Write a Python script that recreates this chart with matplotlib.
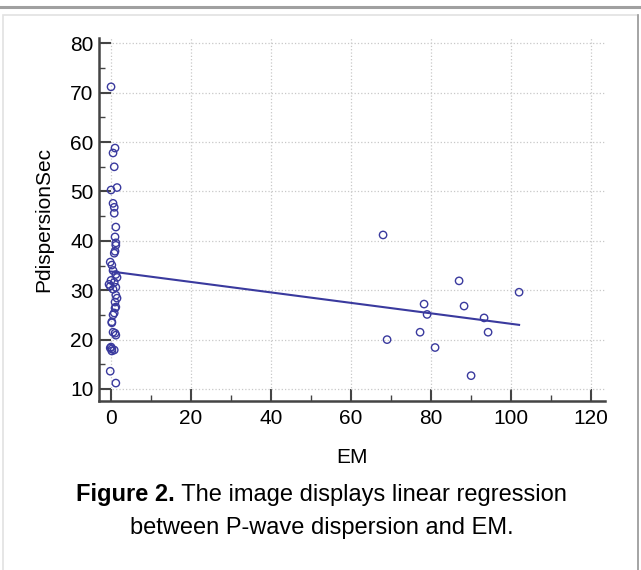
import numpy as np
import matplotlib
matplotlib.use('Agg')
import matplotlib.pyplot as plt
from matplotlib.lines import Line2D
from matplotlib.patches import Rectangle
from matplotlib.ticker import MultipleLocator

plt.rcParams['font.family'] = ['Liberation Sans', 'DejaVu Sans']

# EM values (x) and P-wave dispersion (y)
em_low = [0, 1, 0.5, 0.8, 0, 1.5, 0.5, 0.8, 0.8, 1.2, 1, 1.2, 1.2, 0.8, 1,
          -0.2, 0.2, 0.5, 1.2, 1.5, 0, -0.5, 0.8, 1.2, -0.2, 0.5,
          1.2, 1.5, 1, 1.2, 1, 0.5, 0.8, 0.2, 0.2, 0.5, 1, 1.2,
          0, 0.2, 0.2, -0.2, 0.8, -0.2, 1.2]
pd_low = [71.2, 58.8, 57.8, 55.0, 50.3, 50.8, 47.6, 46.8, 45.6, 42.8, 40.8, 39.6, 39.1, 37.5, 37.9,
          35.7, 35.1, 34.0, 33.2, 32.6, 32.0, 31.2, 31.6, 30.6, 30.8, 30.2,
          29.0, 28.4, 27.6, 26.6, 26.4, 25.0, 25.4, 23.6, 23.4, 21.5, 21.3, 20.9,
          18.5, 18.1, 17.7, 18.3, 17.9, 13.6, 11.2]
em_high = [68.0, 69.0, 77.25, 78.25, 79.0, 81.0, 87.0, 88.25, 90.0, 93.25, 94.25, 102.0]
pd_high = [41.2, 20.0, 21.5, 27.2, 25.1, 18.4, 31.9, 26.8, 12.7, 24.4, 21.5, 29.6]

em = np.array(em_low + em_high)
pdisp = np.array(pd_low + pd_high)

# regression line
intercept = 33.8
slope = -0.106

blue = '#3a3a9e'
axis_col = '#444444'

fig = plt.figure(figsize=(6.41, 5.70), dpi=100)
ax = fig.add_axes([0.1545, 0.2965, 0.944 - 0.1545, 0.933 - 0.2965])

ax.scatter(em, pdisp, s=28, facecolors='none', edgecolors=blue, linewidths=1.0, zorder=3)
xl = np.array([0, em.max()])
ax.plot(xl, intercept + slope * xl, color=blue, lw=1.5, zorder=2)

ax.set_xlim(-3, 123.5)
ax.set_ylim(7.57, 81.05)
ax.xaxis.set_minor_locator(MultipleLocator(10))
ax.yaxis.set_minor_locator(MultipleLocator(5))
ax.set_xticks(np.arange(0, 121, 20))
ax.set_yticks(np.arange(10, 81, 10))

for s in ['top', 'right']:
    ax.spines[s].set_visible(False)
for s in ['left', 'bottom']:
    ax.spines[s].set_color(axis_col)
    ax.spines[s].set_linewidth(1.8)
ax.tick_params(which='major', direction='in', length=8.5, width=1.5, color=axis_col,
               labelsize=15, pad=4)
ax.tick_params(axis='x', which='major', pad=6)
ax.tick_params(which='minor', direction='in', length=4.5, width=1.0, color=axis_col)
ax.grid(True, which='major', color='#c8c8c8', linestyle=':', linewidth=0.9)
ax.set_axisbelow(True)

ax.set_xlabel('EM', fontsize=15, labelpad=14)
ax.set_ylabel('PdispersionSec', fontsize=15, labelpad=12)

# caption with bold "Figure 2." followed by normal text
renderer = fig.canvas.get_renderer()
cap_size = 17
t1 = fig.text(0, 0, 'Figure 2.', fontsize=cap_size, fontweight='bold')
t2 = fig.text(0, 0, ' The image displays linear regression', fontsize=cap_size)
w1 = t1.get_window_extent(renderer).width / fig.bbox.width
w2 = t2.get_window_extent(renderer).width / fig.bbox.width
x_start = 0.502 - (w1 + w2) / 2
y1 = 1 - 495 / 570
t1.set_position((x_start, y1))
t2.set_position((x_start + w1, y1))
t1.set_va('center')
t2.set_va('center')
fig.text(0.502, 1 - 528 / 570, 'between P-wave dispersion and EM.', fontsize=cap_size,
         ha='center', va='center')

# page decorations
fig.add_artist(Line2D([0, 1], [1 - 7 / 570, 1 - 7 / 570], color='#a0a0a0', lw=2.2))
fig.add_artist(Rectangle((3 / 641, -0.01), 635 / 641, 1 - 15 / 570 + 0.01, fill=False,
                         edgecolor='#e2e2e2', lw=1.2))
fig.add_artist(Line2D([638 / 641, 638 / 641], [0, 1 - 15 / 570], color='#9a9a9a', lw=1.2))

fig.savefig('out.png', dpi=100)
